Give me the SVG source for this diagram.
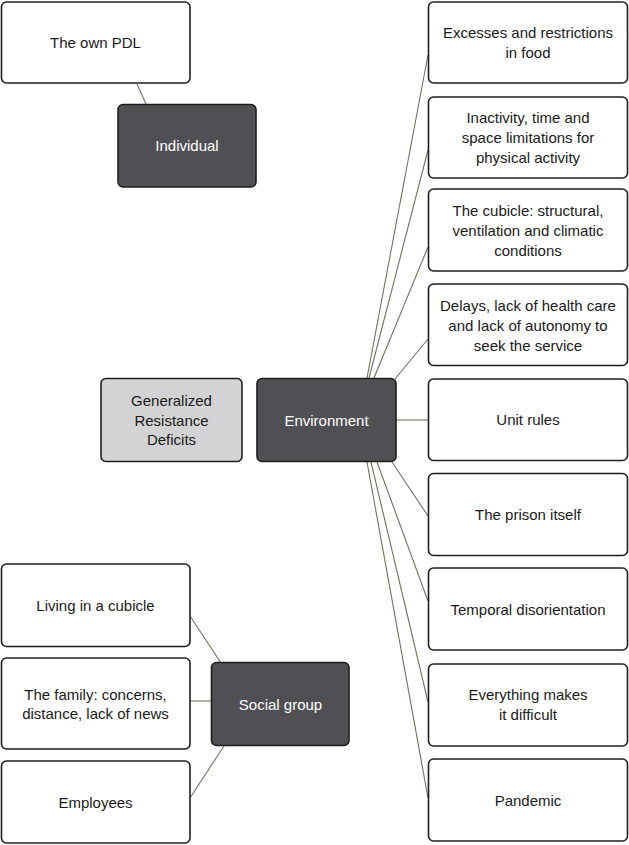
<svg xmlns="http://www.w3.org/2000/svg" width="629" height="845" viewBox="0 0 629 845">
<style>
.box{fill:#ffffff;stroke:#1e1e1e;stroke-width:1.6}
.dark{fill:#505054;stroke:#1e1e1e;stroke-width:1.6}
.grey{fill:#d3d3d5;stroke:#1e1e1e;stroke-width:1.6}
text{font-family:"Liberation Sans",Arial,sans-serif;font-size:15px;text-anchor:middle;fill:#1a1a1a}
.lt{fill:#ffffff}
.conn line{stroke:#72725a;stroke-width:1.1}
</style>
<rect width="629" height="845" fill="#ffffff"/>
<g class="conn" id="connectors">
<line x1="137" y1="84" x2="146" y2="104"/>
<line x1="367" y1="378" x2="428" y2="55"/>
<line x1="369" y1="378" x2="428" y2="150"/>
<line x1="374" y1="378" x2="428" y2="247"/>
<line x1="395" y1="379" x2="428" y2="339"/>
<line x1="396" y1="420" x2="428" y2="420"/>
<line x1="392" y1="462" x2="428" y2="516"/>
<line x1="377" y1="462" x2="428" y2="601"/>
<line x1="371" y1="462" x2="428" y2="702"/>
<line x1="367" y1="462" x2="428" y2="798"/>
<line x1="190" y1="616" x2="221" y2="663"/>
<line x1="190" y1="701" x2="211" y2="701"/>
<line x1="190" y1="798" x2="224" y2="746"/>
</g>
<g id="own-pdl"><rect class="box" x="1.5" y="2" width="188.5" height="81" rx="5"/><text x="95.5" y="48">The own PDL</text></g>
<g id="individual"><rect class="dark" x="118" y="104.5" width="138" height="82.5" rx="5"/><text class="lt" x="187" y="151">Individual</text></g>
<g id="grd"><rect class="grey" x="101" y="378.5" width="141" height="83" rx="5"/><text x="171.5" y="406">Generalized</text><text x="171.5" y="425.5">Resistance</text><text x="171.5" y="445">Deficits</text></g>
<g id="environment"><rect class="dark" x="257" y="378.5" width="139" height="83" rx="5"/><text class="lt" x="326.5" y="425.5">Environment</text></g>
<g id="living"><rect class="box" x="1.5" y="564" width="188.5" height="82.5" rx="5"/><text x="95.5" y="611">Living in a cubicle</text></g>
<g id="family"><rect class="box" x="1.5" y="658" width="188.5" height="91" rx="5"/><text x="95.5" y="699.5">The family: concerns,</text><text x="95.5" y="719">distance, lack of news</text></g>
<g id="employees"><rect class="box" x="1.5" y="761" width="188.5" height="82" rx="5"/><text x="95.5" y="807.5">Employees</text></g>
<g id="social-group"><rect class="dark" x="211.5" y="662.5" width="137.5" height="83" rx="5"/><text class="lt" x="280.5" y="709.5">Social group</text></g>
<g id="food"><rect class="box" x="428.5" y="2" width="199" height="81" rx="5"/><text x="528" y="37.5">Excesses and restrictions</text><text x="528" y="57.5">in food</text></g>
<g id="inactivity"><rect class="box" x="428.5" y="97" width="199" height="81" rx="5"/><text x="528" y="123">Inactivity, time and</text><text x="528" y="143">space limitations for</text><text x="528" y="163">physical activity</text></g>
<g id="cubicle"><rect class="box" x="428.5" y="189" width="199" height="82" rx="5"/><text x="528" y="216">The cubicle: structural,</text><text x="528" y="236">ventilation and climatic</text><text x="528" y="256">conditions</text></g>
<g id="delays"><rect class="box" x="428.5" y="284" width="199" height="81.5" rx="5"/><text x="528" y="311">Delays, lack of health care</text><text x="528" y="331">and lack of autonomy to</text><text x="528" y="351">seek the service</text></g>
<g id="unit-rules"><rect class="box" x="428.5" y="379" width="199" height="81.5" rx="5"/><text x="528" y="425">Unit rules</text></g>
<g id="prison"><rect class="box" x="428.5" y="473.5" width="199" height="82" rx="5"/><text x="528" y="520">The prison itself</text></g>
<g id="temporal"><rect class="box" x="428.5" y="568" width="199" height="82" rx="5"/><text x="528" y="614.5">Temporal disorientation</text></g>
<g id="everything"><rect class="box" x="428.5" y="664" width="199" height="82" rx="5"/><text x="528" y="699.5">Everything makes</text><text x="528" y="720">it difficult</text></g>
<g id="pandemic"><rect class="box" x="428.5" y="759" width="199" height="82" rx="5"/><text x="528" y="805.5">Pandemic</text></g>
</svg>
